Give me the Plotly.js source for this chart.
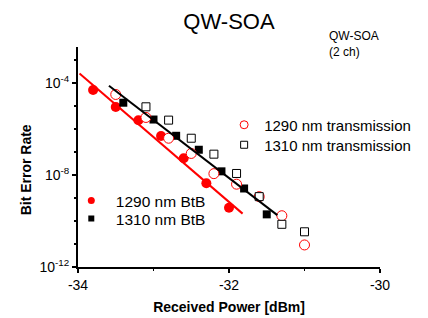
<!DOCTYPE html>
<html>
<head>
<meta charset="utf-8">
<script src="https://cdn.plot.ly/plotly-3.0.1.min.js"></script>
<style>html,body{margin:0;padding:0;background:#fff;}#chart{width:428px;height:318px;}</style>
</head>
<body>
<div id="chart"></div>
<script>
// Received power [dBm] and bit error rate values
var btb1290X = [-33.8, -33.5, -33.2, -32.9, -32.6, -32.3, -32.0];
var btb1290Y = [5.0e-5, 9.1e-6, 2.4e-6, 5.0e-7, 5.4e-8, 4.4e-9, 3.8e-10];

var btb1310X = [-33.4, -33.0, -32.7, -32.4, -32.1, -31.8, -31.5];
var btb1310Y = [1.4e-5, 2.6e-6, 5.1e-7, 1.26e-7, 1.45e-8, 2.6e-9, 1.95e-10];

var tx1290X = [-33.5, -33.1, -32.8, -32.5, -32.2, -31.9, -31.6, -31.3, -31.0];
var tx1290Y = [3.2e-5, 3.2e-6, 4.0e-7, 8.7e-8, 1.15e-8, 4.0e-9, 1.15e-9, 1.7e-10, 9.1e-12];

var tx1310X = [-33.1, -32.8, -32.5, -32.2, -31.9, -31.6, -31.3, -31.0];
var tx1310Y = [9.3e-6, 2.45e-6, 4.0e-7, 8.1e-8, 1.17e-8, 1.15e-9, 7.2e-11, 3.4e-11];

// Fit lines (end points)
var fit1290X = [-33.98, -31.82];
var fit1290Y = [2.6e-4, 2.1e-10];
var fit1310X = [-33.59, -31.36];
var fit1310Y = [7.6e-5, 1.8e-10];

// Tick labels
var xTickVals = [-34, -32, -30];
var xTickText = ['-34', '-32', '-30'];
var xMinorVals = [-33, -31];
var yTickVals = [1e-12, 1e-8, 1e-4];
var yTickText = ['10<sup>-12</sup>', '10<sup>-8</sup>', '10<sup>-4</sup>'];
var yMinorVals = [1e-11, 1e-10, 1e-9, 1e-7, 1e-6, 1e-5, 1e-3];

var names = ['1290 nm BtB', '1310 nm BtB', '1290 nm transmission', '1310 nm transmission'];

var RED = '#ff0000';
var FONT = '"Liberation Sans", Arial, sans-serif';

var traces = [
  {x: btb1290X, y: btb1290Y, type: 'scatter', mode: 'markers', showlegend: false,
   marker: {symbol: 'circle', size: 10, color: RED}},
  {x: btb1310X, y: btb1310Y, type: 'scatter', mode: 'markers', showlegend: false,
   marker: {symbol: 'square', size: 8, color: '#000'}},
  {x: tx1290X, y: tx1290Y, type: 'scatter', mode: 'markers', showlegend: false,
   marker: {symbol: 'circle', size: 10, color: '#fff', line: {color: RED, width: 1}}},
  {x: tx1310X, y: tx1310Y, type: 'scatter', mode: 'markers', showlegend: false,
   marker: {symbol: 'square', size: 8, color: '#fff', line: {color: '#000', width: 1}}},
  {x: fit1290X, y: fit1290Y, type: 'scatter', mode: 'lines', showlegend: false,
   line: {color: RED, width: 2}},
  {x: fit1310X, y: fit1310Y, type: 'scatter', mode: 'lines', showlegend: false,
   line: {color: '#000', width: 2}},
  // legend entries (one per legend box)
  {x: [null], y: [null], type: 'scatter', mode: 'markers', name: names[0], legend: 'legend',
   marker: {symbol: 'circle', size: 7, color: RED}},
  {x: [null], y: [null], type: 'scatter', mode: 'markers', name: names[1], legend: 'legend2',
   marker: {symbol: 'square', size: 6, color: '#000'}},
  {x: [null], y: [null], type: 'scatter', mode: 'markers', name: names[2], legend: 'legend3',
   marker: {symbol: 'circle-open', size: 8, color: RED, line: {color: RED, width: 1}}},
  {x: [null], y: [null], type: 'scatter', mode: 'markers', name: names[3], legend: 'legend4',
   marker: {symbol: 'square-open', size: 7, color: '#000', line: {color: '#000', width: 1}}}
];

function px2x(px) { return (px - 78) / 310; }
function py2y(py) { return (267 - py) / 220; }

function leg(px, py, iw, fs) {
  return {x: px2x(px - (iw / 2 + 5)), y: py2y(py), xanchor: 'left', yanchor: 'middle',
          itemwidth: iw,
          bgcolor: 'rgba(0,0,0,0)', borderwidth: 0,
          font: {family: FONT, size: fs, color: '#000'}};
}

var layout = {
  width: 428, height: 318,
  margin: {l: 78, r: 40, t: 47, b: 51, pad: 0},
  paper_bgcolor: '#fff', plot_bgcolor: '#fff',
  font: {family: FONT, size: 14, color: '#000'},
  title: {text: 'QW-SOA', font: {family: FONT, size: 22, color: '#000'},
          xref: 'paper', x: 0.5, xanchor: 'center', yref: 'container', y: 1 - 21 / 318, yanchor: 'middle'},
  xaxis: {
    range: [-34, -30], showgrid: false, zeroline: false,
    showline: true, linecolor: '#000', linewidth: 2,
    ticks: 'outside', ticklen: 4, tickwidth: 1.5, tickcolor: '#000',
    tickmode: 'array', tickvals: xTickVals, ticktext: xTickText,
    minor: {tickmode: 'array', tickvals: xMinorVals, ticks: 'outside', ticklen: 2, tickwidth: 1.5, tickcolor: '#000', showgrid: false},
    tickfont: {family: FONT, size: 14, color: '#000'},
    title: {text: '<b>Received Power [dBm]</b>', font: {family: FONT, size: 14, color: '#000'}, standoff: 10}
  },
  yaxis: {
    type: 'log', range: [-12, -2.43], showgrid: false, zeroline: false,
    showline: true, linecolor: '#000', linewidth: 2,
    ticks: 'outside', ticklen: 4, tickwidth: 1.5, tickcolor: '#000',
    tickmode: 'array', tickvals: yTickVals, ticktext: yTickText,
    minor: {tickmode: 'array', tickvals: yMinorVals, ticks: 'outside', ticklen: 2, tickwidth: 1.5, tickcolor: '#000', showgrid: false},
    tickfont: {family: FONT, size: 14, color: '#000'}
  },
  legend: leg(91, 201, 39, 15.5),
  legend2: leg(91, 219, 39, 15.5),
  legend3: leg(248, 125, 30, 15),
  legend4: leg(248, 145, 30, 15),
  annotations: [
    {text: '<b>Bit Error Rate</b>', textangle: -90, xref: 'paper', yref: 'paper',
     x: px2x(25), y: py2y(170), xanchor: 'center', yanchor: 'middle', showarrow: false,
     font: {family: FONT, size: 14, color: '#000'}},
    {text: 'QW-SOA<br>(2 ch)', xref: 'paper', yref: 'paper', x: px2x(334), y: py2y(27),
     xanchor: 'left', yanchor: 'top', align: 'left', showarrow: false,
     font: {family: FONT, size: 12, color: '#000'}}
  ]
};

Plotly.newPlot('chart', traces, layout, {displayModeBar: false, staticPlot: true});
</script>
</body>
</html>
